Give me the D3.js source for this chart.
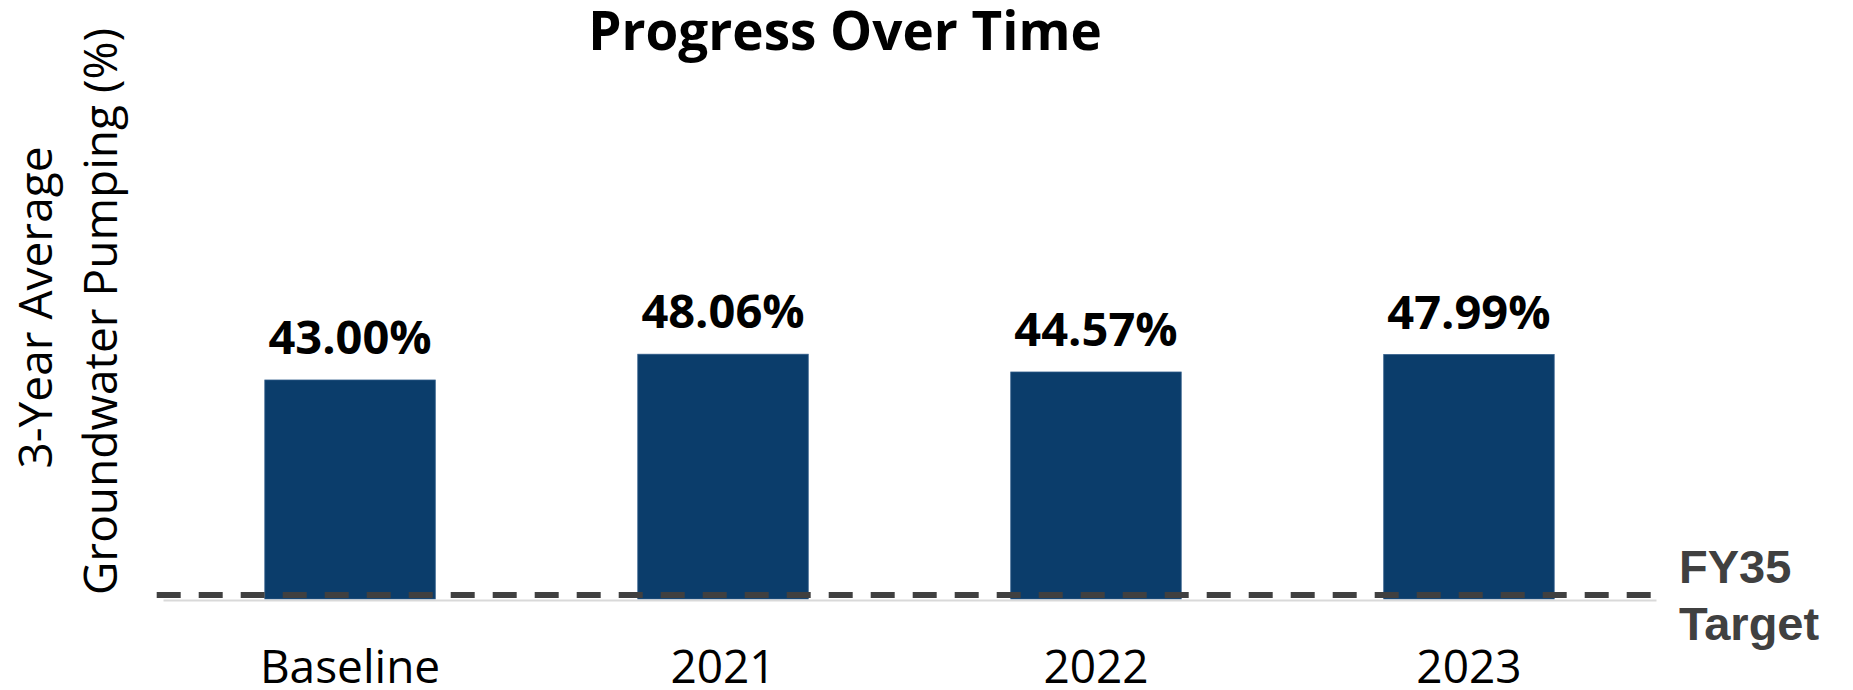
<!DOCTYPE html>
<html>
<head>
<meta charset="utf-8">
<script src="https://cdn.jsdelivr.net/npm/d3@7"></script>
<style>
  html, body { margin: 0; padding: 0; background: #ffffff; }
  svg { display: block; }
</style>
</head>
<body>
<svg id="chart" width="1853" height="690"></svg>
<script>
// ---- data ----
const categories = ["Baseline", "2021", "2022", "2023"];
const values = [43.00, 48.06, 44.57, 47.99];
const valueLabels = ["43.00%", "48.06%", "44.57%", "47.99%"];
const targetValue = [0.8];
const targetLabel = ["FY35", "Target"];
const titleText = "Progress Over Time";
const yAxisLines = ["3-Year Average", "Groundwater Pumping (%)"];

// ---- layout ----
const W = 1853, H = 690;
const svg = d3.select("#chart");

const x = d3.scaleBand()
  .domain(categories)
  .range([163, 1656])
  .paddingInner(0.543)
  .paddingOuter(0.273);

const y = d3.scaleLinear()
  .domain([0, 50])
  .range([599, 599 - 50 * 5.093]);

// bars
svg.append("g").selectAll("rect")
  .data(values)
  .join("rect")
  .attr("x", (d, i) => x(categories[i]))
  .attr("y", d => y(d))
  .attr("width", x.bandwidth())
  .attr("height", d => y(0) - y(d))
  .attr("fill", "#0b3d6b")
  .attr("stroke", "#2e5b88")
  .attr("stroke-width", 0.8);

// baseline axis (light gray)
const xAxis = d3.axisBottom(x).tickSize(0).tickFormat("");
const gx = svg.append("g")
  .attr("transform", `translate(0, ${y(0) + 1})`)
  .call(xAxis);
gx.select(".domain").attr("stroke", "#d9d9d9").attr("stroke-width", 2);

// category labels
svg.append("g").selectAll("text")
  .data(categories)
  .join("text")
  .attr("x", d => x(d) + x.bandwidth() / 2)
  .attr("y", 683)
  .attr("text-anchor", "middle")
  .attr("font-family", "'Open Sans', sans-serif")
  .attr("font-size", 46)
  .attr("fill", "#000")
  .text(d => d);

// value labels
svg.append("g").selectAll("text")
  .data(values)
  .join("text")
  .attr("x", (d, i) => x(categories[i]) + x.bandwidth() / 2)
  .attr("y", d => y(d) - 26)
  .attr("text-anchor", "middle")
  .attr("font-family", "'Open Sans', sans-serif")
  .attr("font-weight", "bold")
  .attr("font-size", 47)
  .attr("fill", "#000")
  .text((d, i) => valueLabels[i]);

// target dashed line
svg.append("g").selectAll("line")
  .data(targetValue)
  .join("line")
  .attr("x1", 156.7)
  .attr("x2", 1651)
  .attr("y1", d => y(d))
  .attr("y2", d => y(d))
  .attr("stroke", "#404040")
  .attr("stroke-width", 6)
  .attr("stroke-dasharray", "24 18");

// target label
svg.append("text")
  .attr("x", 1679)
  .attr("y", 583)
  .attr("font-family", "'Liberation Sans', Arial, sans-serif")
  .attr("font-weight", "bold")
  .attr("font-size", 47)
  .attr("fill", "#404040")
  .selectAll("tspan")
  .data(targetLabel)
  .join("tspan")
  .attr("x", 1679)
  .attr("dy", (d, i) => i === 0 ? 0 : 57)
  .text(d => d);

// title
svg.append("text")
  .attr("x", 845)
  .attr("y", 50)
  .attr("text-anchor", "middle")
  .attr("font-family", "'Open Sans', sans-serif")
  .attr("font-weight", "bold")
  .attr("font-size", 53)
  .attr("fill", "#000")
  .text(titleText);

// y-axis title (two rotated lines)
const yLabelPos = [{bx: 52, cy: 307.5}, {bx: 117, cy: 311.5}];
svg.append("g").selectAll("text")
  .data(yAxisLines)
  .join("text")
  .attr("transform", (d, i) => `translate(${yLabelPos[i].bx}, ${yLabelPos[i].cy}) rotate(-90)`)
  .attr("text-anchor", "middle")
  .attr("font-family", "'Open Sans', sans-serif")
  .attr("font-size", 46)
  .attr("fill", "#000")
  .text(d => d);
</script>
</body>
</html>
